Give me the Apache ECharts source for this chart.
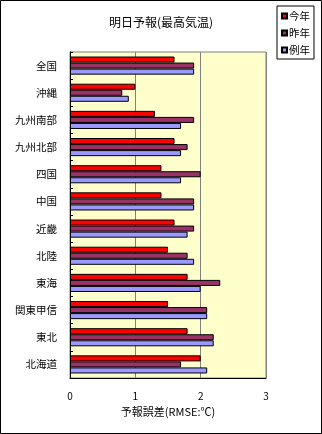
<!DOCTYPE html>
<html><head><meta charset="utf-8">
<script src="https://cdn.jsdelivr.net/npm/echarts@6/dist/echarts.min.js"></script>
<style>html,body{margin:0;padding:0;background:#fff}#c{width:322px;height:434px}</style>
</head><body><div id="c"></div>
<script>
const categories = ['全国','沖縄','九州南部','九州北部','四国','中国','近畿','北陸','東海','関東甲信','東北','北海道'];
const thisYear = [1.6,1.0,1.3,1.6,1.4,1.4,1.6,1.5,1.8,1.5,1.8,2.0];
const lastYear = [1.9,0.8,1.9,1.8,2.0,1.9,1.9,1.8,2.3,2.1,2.2,1.7];
const normalYear = [1.9,0.9,1.7,1.7,1.7,1.9,1.8,1.9,2.0,2.1,2.2,2.1];
const seriesNames = ['今年','昨年','例年'];
const colors = ['#FF0000','#993366','#9999FF'];
const FONT = '"Noto Sans CJK JP", sans-serif';

const chart = echarts.init(document.getElementById('c'), null, {renderer:'canvas'});
const dataSets = [thisYear, lastYear, normalYear];
chart.setOption({
  animation:false,
  backgroundColor:'#fff',
  textStyle:{fontFamily:FONT},
  graphic:[{type:'rect',shape:{x:0.5,y:0.5,width:321,height:433},style:{fill:'none',stroke:'#000',lineWidth:1},z:100}],
  title:{text:'明日予報(最高気温)',left:'center',top:16,padding:0,
    textStyle:{fontFamily:FONT,fontSize:12,fontWeight:'normal',color:'#000'}},
  legend:{orient:'vertical',left:277,top:6,padding:[4,4,3,4],
    backgroundColor:'#fff',borderColor:'#000',borderWidth:1,
    itemWidth:5,itemHeight:5,itemGap:5,icon:'rect',
    textStyle:{fontFamily:FONT,fontSize:10.5,color:'#000',lineHeight:12,padding:[0,0,0,-3]},
    data:seriesNames},
  grid:{left:70,top:52,width:196,height:326,show:true,backgroundColor:'#FFFFCC',borderColor:'#808080',borderWidth:1},
  xAxis:{type:'value',min:0,max:3,interval:1,
    name:'予報誤差(RMSE:℃)',nameLocation:'middle',nameGap:28,
    nameTextStyle:{fontFamily:FONT,fontSize:11,color:'#000'},
    axisLine:{show:true,lineStyle:{color:'#000',width:1}},
    axisTick:{show:false},
    axisLabel:{margin:13,fontFamily:FONT,fontSize:10,color:'#000'},
    splitLine:{show:true,lineStyle:{color:'#808080',width:1}}},
  yAxis:{type:'category',inverse:true,data:categories,
    axisLine:{show:true,lineStyle:{color:'#000',width:1}},
    axisTick:{show:true,inside:true,length:3,lineStyle:{color:'#000'}},
    axisLabel:{margin:13,fontFamily:FONT,fontSize:10.5,color:'#000'},
    splitLine:{show:false}},
  series:seriesNames.map((n,i)=>({
    name:n,type:'bar',data:dataSets[i],barGap:'0%',barCategoryGap:'33.3%',
    itemStyle:{color:colors[i],borderColor:'#000',borderWidth:1}
  }))
});
</script></body></html>
